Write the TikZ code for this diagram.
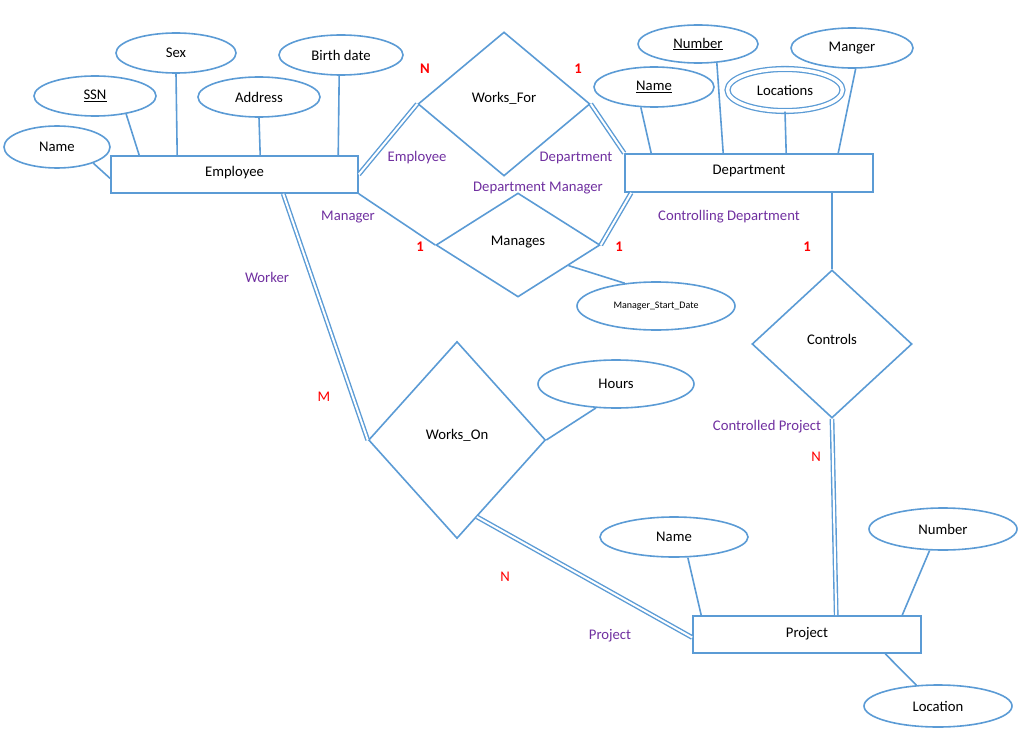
\documentclass[tikz,border=0pt]{standalone}
\usepackage{fontspec}
\setmainfont{Carlito}
\usetikzlibrary{shapes.geometric,calc}
\definecolor{lb}{HTML}{5B9BD5}
\definecolor{pu}{HTML}{7030A0}
\newcommand{\up}[2]{\raisebox{#1pt}{#2}}
\begin{document}
\begin{tikzpicture}[x=1pt,y=-1pt,
  every node/.style={font=\fontsize{14.7}{17}\selectfont},
  ent/.style={draw=lb, line width=1.6pt, rectangle, inner sep=0, fill=white},
  attr/.style={draw=lb, line width=1.6pt, ellipse, inner sep=0},
  rel/.style={draw=lb, line width=1.6pt, diamond, inner sep=0},
  ln/.style={draw=lb, line width=1.6pt},
  dbl/.style={draw=lb, line width=1.4pt, double=white, double distance=2pt},
  role/.style={text=pu},
  card/.style={text=red, font=\fontsize{14.7}{17}\selectfont\bfseries},
  cardn/.style={text=red}]
\useasboundingbox (0,0) rectangle (1024,738);

% entities
\node[ent, minimum width=247pt, minimum height=37pt] (emp) at (234.5,174.5) {\up{6}{Employee}};
\node[ent, minimum width=248pt, minimum height=38pt] (dept) at (749,173) {\up{6}{Department}};
\node[ent, minimum width=228pt, minimum height=37pt] (proj) at (807,634.5) {\up{4}{Project}};

% relationships
\node[rel, minimum width=172pt, minimum height=144pt, aspect=1.19] (wf) at (504,104) {\up{14}{Works\_For}};
\node[rel, minimum width=164pt, minimum height=104pt, aspect=1.58] (man) at (518,245) {\up{8}{Manages}};
\node[rel, minimum width=177pt, minimum height=197pt, aspect=0.9] (wo) at (457,440) {\up{12}{Works\_On}};
\node[rel, minimum width=160pt, minimum height=148pt, aspect=1.08] (ctl) at (832,344) {\up{10}{Controls}};

% employee attributes
\node[attr, minimum width=106pt, minimum height=42pt] (ename) at (57,147) {Name};
\node[attr, minimum width=122pt, minimum height=40pt] (ssn) at (95,96) {\underline{SSN}};
\node[attr, minimum width=120pt, minimum height=40pt] (sex) at (176,53) {Sex};
\node[attr, minimum width=122pt, minimum height=40pt] (addr) at (259,97) {Address};
\node[attr, minimum width=124pt, minimum height=40pt] (birth) at (341,55) {Birth date};

% department attributes
\node[attr, minimum width=120pt, minimum height=40pt] (dname) at (654,87) {\underline{Name}};
\node[attr, minimum width=120pt, minimum height=38pt] (dnum) at (698,44) {\underline{Number}};
\node[attr, minimum width=115pt, minimum height=42pt, double=white, double distance=3.5pt, line width=1.3pt] (dloc) at (785,90) {Locations};
\node[attr, minimum width=122pt, minimum height=40pt] (dmgr) at (852,48) {Manger};

% other attributes
\node[attr, minimum width=158pt, minimum height=48pt, font=\fontsize{10}{12}\selectfont] (msd) at (656,306) {Manager\_Start\_Date};
\node[attr, minimum width=156pt, minimum height=48pt] (hours) at (616,384) {Hours};
\node[attr, minimum width=148pt, minimum height=40pt] (pname) at (674,537) {Name};
\node[attr, minimum width=148pt, minimum height=42pt] (pnum) at (943,529) {Number};
\node[attr, minimum width=148pt, minimum height=42pt] (ploc) at (938,706) {Location};

% attribute links
\draw[ln] (ename.-24) -- ([yshift=-4pt]emp.west);
\draw[ln] (ssn.-30) -- ([xshift=29pt]emp.north west);
\draw[ln] (sex.south) -- ([xshift=67pt]emp.north west);
\draw[ln] (addr.south) -- ([xshift=150pt]emp.north west);
\draw[ln] (birth.-95) -- ([xshift=228pt]emp.north west);
\draw[ln] (dname.-123) -- ([xshift=27pt]dept.north west);
\draw[ln] (dnum.-45) -- ([xshift=99pt]dept.north west);
\draw[ln] (dloc.south) -- ([xshift=162pt]dept.north west);
\draw[ln] (dmgr.-80) -- ([xshift=214pt]dept.north west);
\draw[ln] ($(man.south)!0.61!(man.east)$) -- (msd.144);
\draw[ln] (wo.east) -- (hours.-130);
\draw[ln] (pname.-56) -- ([xshift=9pt]proj.north west);
\draw[ln] (pnum.-122) -- ([xshift=210pt]proj.north west);
\draw[ln] ([xshift=193pt]proj.south west) -- (ploc.136);

% relationship links
\draw[dbl] (emp.east) -- (wf.west);
\draw[dbl] (wf.east) -- (dept.north west);
\draw[ln] (emp.south east) -- (man.west);
\draw[dbl] (man.east) -- ([xshift=7pt]dept.south west);
\draw[dbl] ([xshift=173pt]emp.south west) -- (wo.west);
\draw[dbl] ($(wo.south)!0.225!(wo.east)$) -- ([yshift=-3pt]proj.west);
\draw[ln] (ctl.north |- dept.south) -- (ctl.north);
\draw[dbl] (ctl.south) -- ([xshift=144pt]proj.north west);

% role labels
\node[role] (r1) at (417,158) {Employee};
\node[role] (r2) at (576,158) {Department};
\node[role] (r3) at (538,188) {Department Manager};
\node[role] (r4) at (348,217) {Manager};
\node[role] (r5) at (729,217) {Controlling Department};
\node[role] (r6) at (267,277) {Worker};
\node[role] (r7) at (767,427) {Controlled Project};
\node[role] (r8) at (610,636) {Project};

% cardinalities
\node[card] (c1) at (425,69) {N};
\node[card] (c2) at (578,69) {1};
\node[card] (c3) at (420,247) {1};
\node[card] (c4) at (619,247) {1};
\node[card] (c5) at (807,247) {1};
\node[cardn] (c6) at (324,397) {M};
\node[cardn] (c7) at (816,457) {N};
\node[cardn] (c8) at (505,577) {N};
\end{tikzpicture}
\end{document}
